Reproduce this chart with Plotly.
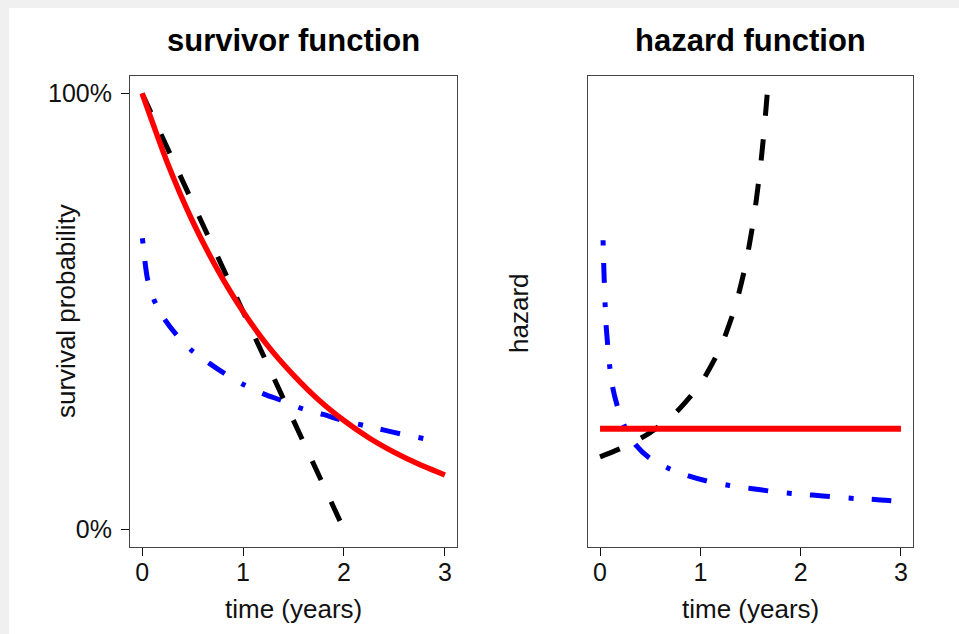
import plotly.graph_objects as go

# ---- data -------------------------------------------------------------
# exponential model (constant hazard)
t_exp = [0, 0.25, 0.5, 0.75, 1, 1.25, 1.5, 1.75, 2, 2.25, 2.5, 2.75, 3]
surv_exp = [1.000, 0.841, 0.707, 0.595, 0.500, 0.420, 0.354, 0.297, 0.250,
            0.210, 0.177, 0.149, 0.125]
t_exp_haz = [0, 3]
haz_exp = [0.693, 0.693]

# increasing-hazard model (black dashed)
t_inc = [0, 0.5, 1, 1.5, 2]
surv_inc = [1.00, 0.75, 0.50, 0.25, 0.00]
t_inc_haz = [0, 0.25, 0.5, 0.75, 1.0, 1.2, 1.35, 1.45, 1.53, 1.6, 1.64, 1.667]
haz_inc = [0.500, 0.571, 0.667, 0.800, 1.000, 1.250, 1.538, 1.818, 2.128,
           2.500, 2.778, 3.000]

# decreasing-hazard model (blue dot-dash)
t_dec = [0.003, 0.027, 0.053, 0.119, 0.229, 0.335, 0.49, 0.667, 0.816, 1.008,
         1.214, 1.396, 1.589, 1.794, 1.977, 2.19, 2.40, 2.59, 2.80]
surv_dec = [0.668, 0.617, 0.575, 0.526, 0.480, 0.448, 0.411, 0.381, 0.358,
            0.332, 0.310, 0.295, 0.277, 0.264, 0.251, 0.239, 0.228, 0.218,
            0.208]
t_dec_haz = [0.030, 0.036, 0.042, 0.050, 0.060, 0.075, 0.095, 0.125, 0.170,
             0.245, 0.36, 0.49, 0.69, 0.89, 1.07, 1.29, 1.50, 1.70, 1.91, 2.12,
             2.32, 2.53, 2.74, 2.95]
haz_dec = [1.99, 1.84, 1.71, 1.56, 1.41, 1.28, 1.13, 0.98, 0.855, 0.708, 0.579,
           0.494, 0.418, 0.368, 0.333, 0.303, 0.283, 0.264, 0.248, 0.237,
           0.226, 0.214, 0.207, 0.195]

x_ticks = [0, 1, 2, 3]
x_tick_text = ["0", "1", "2", "3"]
y_ticks = [0, 1]
y_tick_text = ["0%", "100%"]

# ---- page geometry (pixels) --------------------------------------------
W, H = 959, 634
FONT = "Liberation Sans, Arial, Helvetica, sans-serif"


def px(x):
    return x / W


def py(y):
    return 1 - y / H


BLACK_DASH = "21px,24px"
BLUE_DOTDASH = "5px,18px,20px,19px"

fig = go.Figure()

# survivor panel
fig.add_trace(go.Scatter(x=t_dec, y=surv_dec, mode="lines", xaxis="x", yaxis="y",
                         line=dict(color="#0000ff", width=5, dash=BLUE_DOTDASH,
                                   shape="spline", smoothing=0.6)))
fig.add_trace(go.Scatter(x=t_inc, y=surv_inc, mode="lines", xaxis="x", yaxis="y",
                         line=dict(color="#000000", width=5, dash=BLACK_DASH)))
fig.add_trace(go.Scatter(x=t_exp, y=surv_exp, mode="lines", xaxis="x", yaxis="y",
                         line=dict(color="#ff0000", width=5.5, shape="spline",
                                   smoothing=0.6)))

# hazard panel
fig.add_trace(go.Scatter(x=t_dec_haz, y=haz_dec, mode="lines", xaxis="x2", yaxis="y2",
                         line=dict(color="#0000ff", width=5, dash=BLUE_DOTDASH,
                                   shape="spline", smoothing=0.6)))
fig.add_trace(go.Scatter(x=t_inc_haz, y=haz_inc, mode="lines", xaxis="x2", yaxis="y2",
                         line=dict(color="#000000", width=5, dash=BLACK_DASH,
                                   shape="spline", smoothing=0.6)))
fig.add_trace(go.Scatter(x=t_exp_haz, y=haz_exp, mode="lines", xaxis="x2", yaxis="y2",
                         line=dict(color="#ff0000", width=6)))

tick_font = dict(family=FONT, size=25, color="#111111")
common_x = dict(range=[-0.12, 3.12], tickvals=x_ticks, ticktext=x_tick_text,
                ticks="outside", ticklen=8, tickwidth=1, tickcolor="#111111",
                showline=True, mirror=True, linecolor="#444444", linewidth=1,
                showgrid=False, zeroline=False, tickfont=tick_font,
                ticklabelstandoff=-5, fixedrange=True)

y_dom = [py(547), py(76)]

fig.update_layout(
    width=W, height=H,
    margin=dict(l=0, r=0, t=0, b=0),
    paper_bgcolor="#f0f0f0",
    plot_bgcolor="white",
    showlegend=False,
    xaxis=dict(domain=[px(130), px(457)], anchor="y", **common_x),
    yaxis=dict(domain=y_dom, anchor="x", range=[-0.04, 1.04],
               tickvals=y_ticks, ticktext=y_tick_text,
               ticks="outside", ticklen=8, tickwidth=1, tickcolor="#111111",
               showline=True, mirror=True, linecolor="#444444", linewidth=1,
               showgrid=False, zeroline=False, tickfont=tick_font,
               ticklabelstandoff=4, fixedrange=True),
    xaxis2=dict(domain=[px(588), px(913)], anchor="y2", **common_x),
    yaxis2=dict(domain=y_dom, anchor="x2", range=[-0.12, 3.12],
                showticklabels=False, ticks="",
                showline=True, mirror=True, linecolor="#444444", linewidth=1,
                showgrid=False, zeroline=False, fixedrange=True),
    shapes=[dict(type="rect", xref="paper", yref="paper", layer="below",
                 x0=px(9), x1=1.0, y0=0.0, y1=py(8),
                 fillcolor="white", line=dict(width=0))],
)

title_font = dict(family=FONT, size=31, color="#000000")
label_font = dict(family=FONT, size=26, color="#111111")

annotations = [
    dict(text="<b>survivor function</b>", x=px(293.5), y=py(40), font=title_font),
    dict(text="<b>hazard function</b>", x=px(750.5), y=py(40), font=title_font),
    dict(text="time (years)", x=px(293.5), y=py(609), font=label_font),
    dict(text="time (years)", x=px(750.5), y=py(609), font=label_font),
    dict(text="survival probability", x=px(66), y=py(311), font=label_font,
         textangle=-90),
    dict(text="hazard", x=px(519), y=py(313), font=label_font, textangle=-90),
]
for a in annotations:
    a.update(xref="paper", yref="paper", showarrow=False,
             xanchor="center", yanchor="middle")
fig.update_layout(annotations=annotations)

fig.write_html("out.html", config={"displayModeBar": False})
